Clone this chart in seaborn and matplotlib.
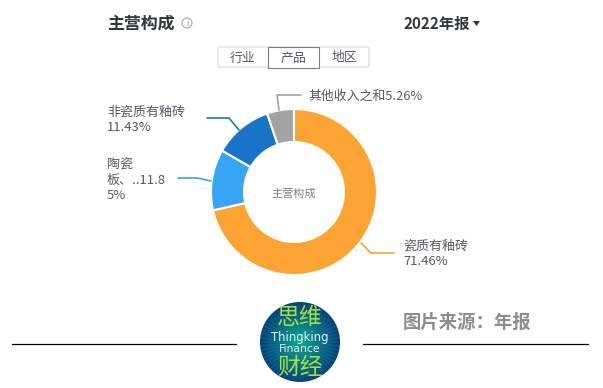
import numpy as np
import seaborn as sns
import matplotlib.pyplot as plt
from matplotlib.patches import Circle, FancyBboxPatch, Rectangle, Polygon

names = ['瓷质有釉砖', '陶瓷板、..', '非瓷质有釉砖', '其他收入之和']
shares = [71.46, 11.85, 11.43, 5.26]
colors = ['#FBA434', '#36A5F3', '#1874C8', '#A3A3A3']
tabs = ['行业', '产品', '地区']

sns.set_theme(style="white")
plt.rcParams['font.family'] = ['Noto Sans CJK SC', 'DejaVu Sans']

fig = plt.figure(figsize=(6.03, 3.88), dpi=100)
ax = fig.add_axes([0, 0, 1, 1])
dark = '#33363E'
grey = '#55585F'

# donut, y axis is flipped later so start at -90 to go clockwise from the top
ax.pie(shares, colors=sns.color_palette(colors), center=(294, 192), radius=83,
       startangle=-90, counterclock=True,
       wedgeprops=dict(width=33, edgecolor='white', linewidth=1.5))
ax.text(294, 194, '主营构成', fontsize=8, color='#7A7D83', ha='center', va='center')

# leader lines
sns.lineplot(x=[361, 371, 394], y=[243, 253, 253], color=colors[0], lw=1.2, sort=False, ax=ax)
sns.lineplot(x=[178, 197, 211], y=[178, 178, 181], color=colors[1], lw=1.2, sort=False, ax=ax)
sns.lineplot(x=[207, 229, 239], y=[118, 118, 130], color=colors[2], lw=1.2, sort=False, ax=ax)
sns.lineplot(x=[301, 277, 279], y=[95, 95, 110], color=colors[3], lw=1.2, sort=False, ax=ax)

ax.text(107, 112.5, '非瓷质有釉砖', fontsize=9.4, color=grey, ha='left', va='center')
ax.text(107, 127.5, '11.43%', fontsize=9.4, color=grey, ha='left', va='center')
ax.text(107, 165.5, '陶瓷', fontsize=9.4, color=grey, ha='left', va='center')
ax.text(107, 180.5, '板、..11.8', fontsize=9.4, color=grey, ha='left', va='center')
ax.text(107, 195.5, '5%', fontsize=9.4, color=grey, ha='left', va='center')
ax.text(308, 96.5, '其他收入之和5.26%', fontsize=9.3, color=grey, ha='left', va='center')
ax.text(403, 246.5, '瓷质有釉砖', fontsize=9.4, color=grey, ha='left', va='center')
ax.text(403, 261.5, '71.46%', fontsize=9.4, color=grey, ha='left', va='center')

# header
ax.text(107, 23.5, '主营构成', fontsize=12.2, fontweight='bold', color=dark, ha='left', va='center')
ax.add_patch(Circle((187, 23), 5, fc='white', ec='#A8A8A8', lw=0.8))
ax.text(187, 23, 'i', fontsize=6, style='italic', color='#8A8A8A', ha='center', va='center')
ax.text(404, 23.5, '2022年报', fontsize=11, fontweight='bold', color=dark, ha='left', va='center')
ax.add_patch(Polygon([(473, 21), (480, 21), (476.5, 26)], fc=dark, ec='none'))

# tab box
ax.add_patch(FancyBboxPatch((218, 47), 151, 20, boxstyle='round,pad=0,rounding_size=2',
                            fc='white', ec='#D8D8D8', lw=0.8))
ax.add_patch(Rectangle((268, 46.5), 51, 21, fc='white', ec='#7C7E82', lw=0.8))
for i, tab in enumerate(tabs):
    ax.text(243 + i * 50.5, 58, tab, fontsize=9.3, color=grey, ha='center', va='center')

# logo
n = 240
gx, gy = np.meshgrid(np.linspace(-1, 1, n), np.linspace(-1, 1, n))
r = np.hypot(gx, gy)
rays = 0.5 + 0.5 * np.cos(np.arctan2(gy, gx) * 60)
shade = np.clip(1.05 - r, 0, 1) * 0.95 + 0.22 * rays
logo = np.clip(np.dstack([0.03 + 0.02 * shade, 0.2 + 0.42 * shade, 0.48 + 0.08 * shade]), 0, 1)
img = ax.imshow(logo, extent=(260, 340, 382, 302), zorder=2, interpolation='bilinear')
clip = Circle((300, 342), 40, transform=ax.transData)
img.set_clip_path(clip)
for txt, y, size in [('思维', 318, 16.5), ('财经', 367, 16.5)]:
    ax.text(300, y, txt, fontsize=size, color='#A6E23C', ha='center', va='center', zorder=3)
ax.text(300, 338, 'Thingking', fontsize=8.4, color='#E4EEF2', family='DejaVu Sans',
        ha='center', va='center', zorder=3)
ax.text(300, 349, 'Finance', fontsize=7.8, color='#E4EEF2', family='DejaVu Sans',
        ha='center', va='center', zorder=3)

# footer
ax.text(403, 322, '图片来源：年报', fontsize=13.2, fontweight='bold', color='#8C8C8C', ha='left', va='center')
sns.lineplot(x=[12, 236], y=[344, 344], color='black', lw=0.9, ax=ax)
sns.lineplot(x=[363, 588], y=[344, 344], color='black', lw=0.9, ax=ax)

ax.set_xlim(0, 603)
ax.set_ylim(388, 0)
ax.set_aspect('auto')
ax.axis('off')

fig.savefig('out.png', dpi=100)
